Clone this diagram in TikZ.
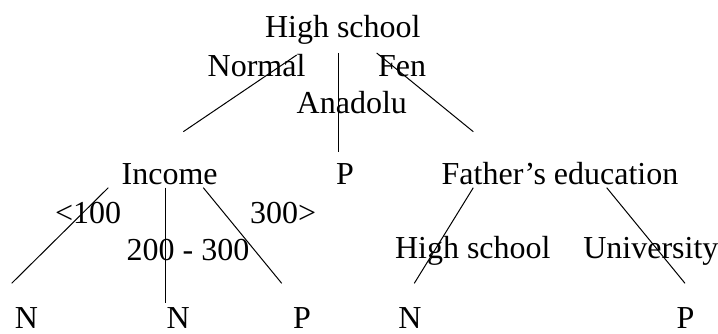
\documentclass[tikz,border=0pt]{standalone}
\usepackage{fontspec}
\setmainfont{Liberation Serif}
\begin{document}
\begin{tikzpicture}[x=1pt,y=-1pt,
  lbl/.style={anchor=base west,inner sep=0pt,outer sep=0pt,
    font=\fontsize{32}{38}\selectfont},
  branch/.style={line width=1pt}]
\useasboundingbox (0,0) rectangle (718,334);

% tree labels (nodes, edge values, leaves)
\node[lbl] (root)   at (265,38)    {High school};
\node[lbl] (normal) at (207.7,76.7) {Normal};
\node[lbl] (fen)    at (378,76.7)  {Fen};
\node[lbl] (anad)   at (296.7,113.3) {Anadolu};
\node[lbl] (income) at (121.7,185) {Income};
\node[lbl] (pmid)   at (336,185)   {P};
\node[lbl] (father) at (441.7,185) {Father’s education};
\node[lbl] (lt)     at (55,223.3)  {<100};
\node[lbl] (gt)     at (250,223.3) {300>};
\node[lbl] (mid)    at (126.7,260) {200 - 300};
\node[lbl] (hs)     at (395,258.3) {High school};
\node[lbl] (univ)   at (583.3,258.3) {University};
\node[lbl] (n1)     at (15,328)    {N};
\node[lbl] (n2)     at (166.7,328) {N};
\node[lbl] (p1)     at (293,328)   {P};
\node[lbl] (n3)     at (398.3,328) {N};
\node[lbl] (p2)     at (676.7,328) {P};

% branch end points
\coordinate (rA) at (296.7,55);  \coordinate (rB) at (183.3,131.7);
\coordinate (rC) at (338.3,53);  \coordinate (rD) at (338.3,151.7);
\coordinate (rE) at (376.7,53);  \coordinate (rF) at (473.3,131.7);
\coordinate (iA) at (108.3,187.7); \coordinate (iB) at (11.7,283.3);
\coordinate (iC) at (165.7,187.7); \coordinate (iD) at (165.7,303.3);
\coordinate (iE) at (203.3,187.7); \coordinate (iF) at (281.7,283.3);
\coordinate (fA) at (473.3,187.7); \coordinate (fB) at (414.3,283.3);
\coordinate (fC) at (606.7,187.7); \coordinate (fD) at (685,283.3);

% branches
\draw[branch] (rA) -- (rB);
\draw[branch] (rC) -- (rD);
\draw[branch] (rE) -- (rF);
\draw[branch] (iA) -- (iB);
\draw[branch] (iC) -- (iD);
\draw[branch] (iE) -- (iF);
\draw[branch] (fA) -- (fB);
\draw[branch] (fC) -- (fD);
\end{tikzpicture}
\end{document}
